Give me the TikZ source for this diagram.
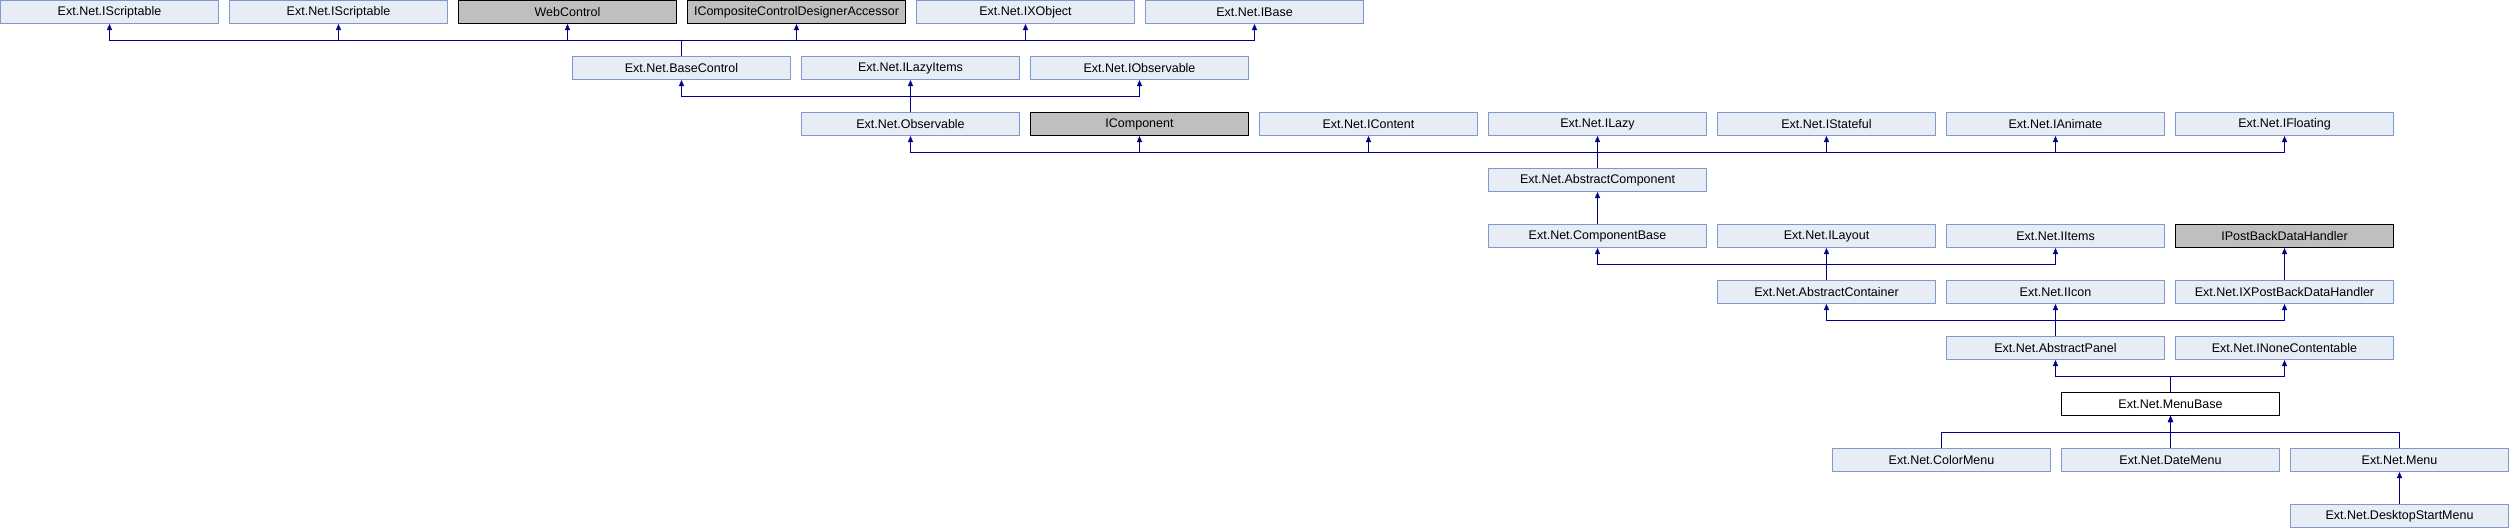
\documentclass[tikz,border=0pt]{standalone}
\usepackage{fontspec}
\setmainfont{Liberation Sans}
\usetikzlibrary{arrows.meta}
\definecolor{boxfill}{RGB}{232,236,245}
\definecolor{boxline}{RGB}{128,152,208}
\definecolor{grayfill}{RGB}{191,191,191}
\definecolor{arrowc}{RGB}{0,0,140}
\begin{document}
\begin{tikzpicture}[x=1pt,y=-1pt,
  cls/.style={draw=boxline, fill=boxfill, line width=1pt, minimum width=218pt, minimum height=23pt, inner sep=0pt, font=\fontsize{12.5}{14}\selectfont},
  extcls/.style={cls, draw=black, fill=grayfill},
  curcls/.style={cls, draw=black, fill=white},
  arr/.style={draw=arrowc, line width=1pt, -{Triangle[width=5pt,length=6pt]}}]
\useasboundingbox[fill=white] (0,0) rectangle (2509,528);
% row 0
\node[cls] (s1) at (109.5,12) {Ext.Net.IScriptable};
\node[cls] (s2) at (338.5,12) {Ext.Net.IScriptable};
\node[extcls] (wc) at (567.5,12) {WebControl};
\node[extcls] (icc) at (796.5,12) {ICompositeControlDesignerAccessor};
\node[cls] (ixo) at (1025.5,12) {Ext.Net.IXObject};
\node[cls] (ib) at (1254.5,12) {Ext.Net.IBase};
% row 1
\node[cls] (bc) at (681.5,68) {Ext.Net.BaseControl};
\node[cls] (ili) at (910.5,68) {Ext.Net.ILazyItems};
\node[cls] (iob) at (1139.5,68) {Ext.Net.IObservable};
% row 2
\node[cls] (ob) at (910.5,124) {Ext.Net.Observable};
\node[extcls] (ic) at (1139.5,124) {IComponent};
\node[cls] (icn) at (1368.5,124) {Ext.Net.IContent};
\node[cls] (il) at (1597.5,124) {Ext.Net.ILazy};
\node[cls] (ist) at (1826.5,124) {Ext.Net.IStateful};
\node[cls] (ian) at (2055.5,124) {Ext.Net.IAnimate};
\node[cls] (ifl) at (2284.5,124) {Ext.Net.IFloating};
% row 3
\node[cls] (ac) at (1597.5,180) {Ext.Net.AbstractComponent};
% row 4
\node[cls] (cb) at (1597.5,236) {Ext.Net.ComponentBase};
\node[cls] (ily) at (1826.5,236) {Ext.Net.ILayout};
\node[cls] (iit) at (2055.5,236) {Ext.Net.IItems};
\node[extcls] (ipb) at (2284.5,236) {IPostBackDataHandler};
% row 5
\node[cls] (acn) at (1826.5,292) {Ext.Net.AbstractContainer};
\node[cls] (iic) at (2055.5,292) {Ext.Net.IIcon};
\node[cls] (ixp) at (2284.5,292) {Ext.Net.IXPostBackDataHandler};
% row 6
\node[cls] (ap) at (2055.5,348) {Ext.Net.AbstractPanel};
\node[cls] (inc) at (2284.5,348) {Ext.Net.INoneContentable};
% row 7
\node[curcls] (mb) at (2170.5,404) {Ext.Net.MenuBase};
% row 8
\node[cls] (cm) at (1941.5,460) {Ext.Net.ColorMenu};
\node[cls] (dm) at (2170.5,460) {Ext.Net.DateMenu};
\node[cls] (mn) at (2399.5,460) {Ext.Net.Menu};
% row 9
\node[cls] (dsm) at (2399.5,516) {Ext.Net.DesktopStartMenu};
% bus lines
\coordinate (b0) at (0,40.5);
\coordinate (b1) at (0,96.5);
\coordinate (b2) at (0,152.5);
\coordinate (b4) at (0,264.5);
\coordinate (b5) at (0,320.5);
\coordinate (b6) at (0,376.5);
\coordinate (b7) at (0,432.5);
% BaseControl
\foreach \p in {s1,s2,wc,icc,ixo,ib}
  \draw[arr] (bc.north) -- (bc.north |- b0) -| (\p.south);
% Observable
\foreach \p in {bc,ili,iob}
  \draw[arr] (ob.north) -- (ob.north |- b1) -| (\p.south);
% AbstractComponent
\foreach \p in {ob,ic,icn,il,ist,ian,ifl}
  \draw[arr] (ac.north) -- (ac.north |- b2) -| (\p.south);
% ComponentBase
\draw[arr] (cb.north) -- (ac.south);
% AbstractContainer
\foreach \p in {cb,ily,iit}
  \draw[arr] (acn.north) -- (acn.north |- b4) -| (\p.south);
% IXPostBackDataHandler
\draw[arr] (ixp.north) -- (ipb.south);
% AbstractPanel
\foreach \p in {acn,iic,ixp}
  \draw[arr] (ap.north) -- (ap.north |- b5) -| (\p.south);
% MenuBase
\foreach \p in {ap,inc}
  \draw[arr] (mb.north) -- (mb.north |- b6) -| (\p.south);
% menus
\foreach \c in {cm,dm,mn}
  \draw[arr] (\c.north) -- (\c.north |- b7) -| (mb.south);
% DesktopStartMenu
\draw[arr] (dsm.north) -- (mn.south);
\end{tikzpicture}
\end{document}
